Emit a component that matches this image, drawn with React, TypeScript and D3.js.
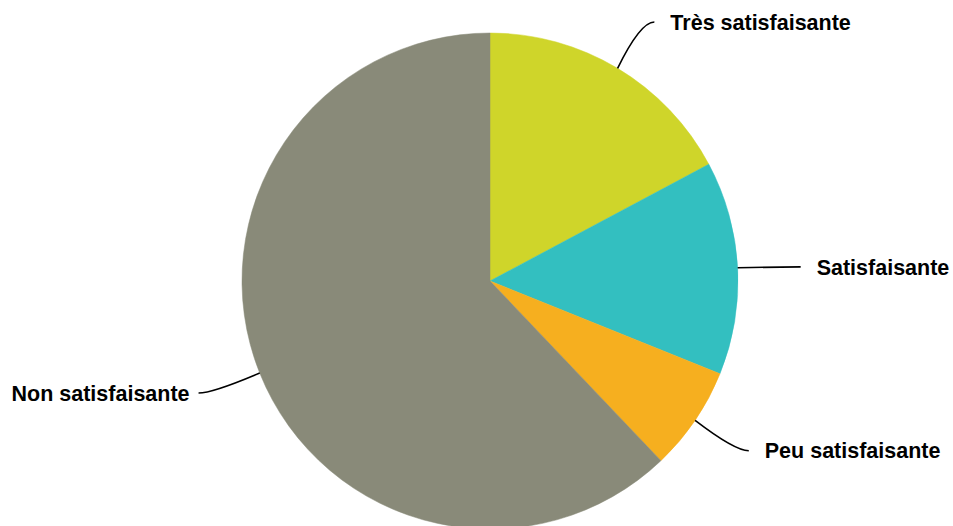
import React from "react";
import * as d3 from "d3";

const categories = ["Très satisfaisante", "Satisfaisante", "Peu satisfaisante", "Non satisfaisante"];
const values = [17.2, 13.9, 6.8, 62.1];
const colors = ["#CFD52A", "#33BFC0", "#F6AF1F", "#898A79"];

const W = 953;
const H = 526;
const cx = 490;
const cy = 281;
const r = 248;
const labelR = r + 54;
const fs = 21.5;

export default function App() {
  const data = categories.map((c, i) => ({ c, v: values[i], color: colors[i] }));
  const pie = d3.pie<any>().value((d) => d.v).sort(null);
  const arcs = pie(data);
  const arc = d3.arc<any>().innerRadius(0).outerRadius(r);

  return (
    <svg
      width={W}
      height={H}
      style={{ position: "absolute", left: 0, top: 0, display: "block" }}
    >
      <rect width={W} height={H} fill="#ffffff" />
      <g transform={`translate(${cx},${cy})`}>
        {arcs.map((a, i) => (
          <path key={i} d={arc(a) as string} fill={a.data.color} stroke={a.data.color} strokeWidth={0.5} />
        ))}
      </g>
      {arcs.map((a, i) => {
        const mid = (a.startAngle + a.endAngle) / 2;
        const sx = Math.sin(mid);
        const cyy = -Math.cos(mid);
        const sign = sx >= 0 ? 1 : -1;
        const p0x = cx + r * sx;
        const p0y = cy + r * cyy;
        const ly = cy + labelR * cyy + (Math.abs(cyy) < 0.2 ? 2 : 0);
        const dy = ly - cy;
        const x0 = cx + sign * Math.sqrt(Math.max(0, labelR * labelR - dy * dy));
        const ex = x0 + sign * (sign > 0 ? 9 : 11);
        const tx = x0 + sign * (sign > 0 ? 25 : 20);
        const ctrlX = ex - sign * 14;
        const path = `M${p0x},${p0y} Q${ctrlX},${ly} ${ex},${ly}`;
        return (
          <g key={"l" + i}>
            <path d={path} fill="none" stroke="#000000" strokeWidth={1.6} />
            <text
              x={tx}
              y={ly + fs * 0.36}
              textAnchor={sign > 0 ? "start" : "end"}
              fontFamily="'Liberation Sans', Arial, sans-serif"
              fontWeight="bold"
              fontSize={fs}
              fill="#000000"
            >
              {a.data.c}
            </text>
          </g>
        );
      })}
    </svg>
  );
}
